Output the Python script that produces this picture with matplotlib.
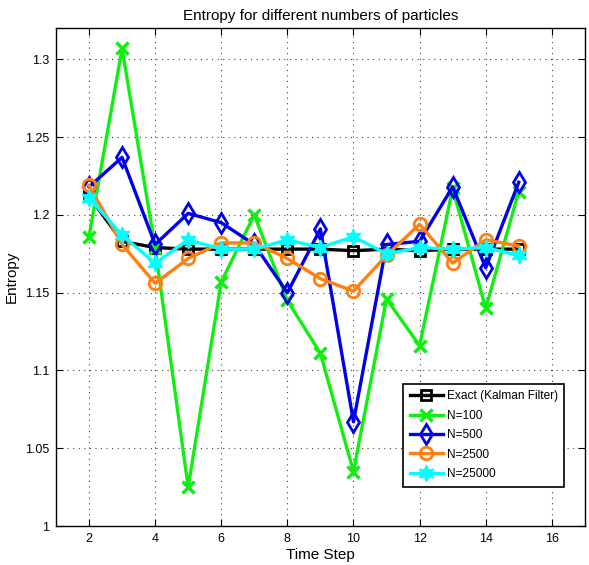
import numpy as np
import matplotlib
matplotlib.use('Agg')
import matplotlib.pyplot as plt
from matplotlib.ticker import FormatStrFormatter

plt.rcParams['font.family'] = ['Liberation Sans', 'DejaVu Sans']

steps = [2, 3, 4, 5, 6, 7, 8, 9, 10, 11, 12, 13, 14, 15]
exact = [1.212, 1.183, 1.179, 1.178, 1.178, 1.178, 1.178, 1.178, 1.177, 1.178, 1.177, 1.178, 1.178, 1.178]
n100 = [1.186, 1.307, 1.179, 1.025, 1.157, 1.200, 1.145, 1.111, 1.035, 1.146, 1.116, 1.217, 1.140, 1.215]
n500 = [1.218, 1.237, 1.181, 1.201, 1.195, 1.181, 1.150, 1.191, 1.067, 1.181, 1.183, 1.218, 1.166, 1.221]
n2500 = [1.219, 1.181, 1.156, 1.172, 1.182, 1.182, 1.172, 1.159, 1.151, 1.174, 1.194, 1.169, 1.184, 1.180]
n25000 = [1.211, 1.187, 1.169, 1.184, 1.178, 1.178, 1.184, 1.179, 1.186, 1.175, 1.179, 1.178, 1.179, 1.174]

labels = ['Exact (Kalman Filter)', 'N=100', 'N=500', 'N=2500', 'N=25000']

def main():
    fig = plt.figure(figsize=(5.89, 5.65), dpi=100)
    ax = fig.add_axes([0.095, 0.069, 0.898, 0.881])

    lw = 2.4
    ax.plot(steps, exact, color='black', lw=lw, marker='s', ms=7, mew=2,
            mfc='none', label=labels[0])
    ax.plot(steps, n100, color='#11ee11', lw=lw, marker='x', ms=8, mew=2.5,
            label=labels[1])
    ax.plot(steps, n500, color='#0000ee', lw=lw, marker='d', ms=10, mew=2,
            mfc='none', label=labels[2])
    ax.plot(steps, n2500, color='#ff7f10', lw=lw, marker='o', ms=9, mew=2,
            mfc='none', label=labels[3])
    ax.plot(steps, n25000, color='#00ffff', lw=lw, marker=(6, 1, 0), ms=12,
            mew=1, label=labels[4])

    ax.set_xlim(1, 17)
    ax.set_ylim(1.0, 1.32)
    ax.set_xticks(np.arange(2, 17, 2))
    ax.set_yticks(np.arange(1.0, 1.31, 0.05))
    ax.yaxis.set_major_formatter(FormatStrFormatter('%g'))
    ax.tick_params(direction='in', top=True, right=True, labelsize=9, length=5, pad=5)
    ax.grid(True, linestyle=(0, (1, 4)), color='#444444', lw=0.8)
    for s in ax.spines.values():
        s.set_linewidth(1.0)

    ax.set_title('Entropy for different numbers of particles', fontsize=11)
    ax.set_xlabel('Time Step', fontsize=11, labelpad=2)
    ax.set_ylabel('Entropy', fontsize=11)

    leg = ax.legend(loc='lower right', bbox_to_anchor=(0.968, 0.072),
                    fontsize=8.6, fancybox=False, framealpha=1,
                    edgecolor='black', handlelength=2.8, borderpad=0.55,
                    labelspacing=0.62, handletextpad=0.3, borderaxespad=0.3)
    leg.get_frame().set_linewidth(1.2)

    fig.savefig('out.png', dpi=100)

if __name__ == "__main__":
    main()
